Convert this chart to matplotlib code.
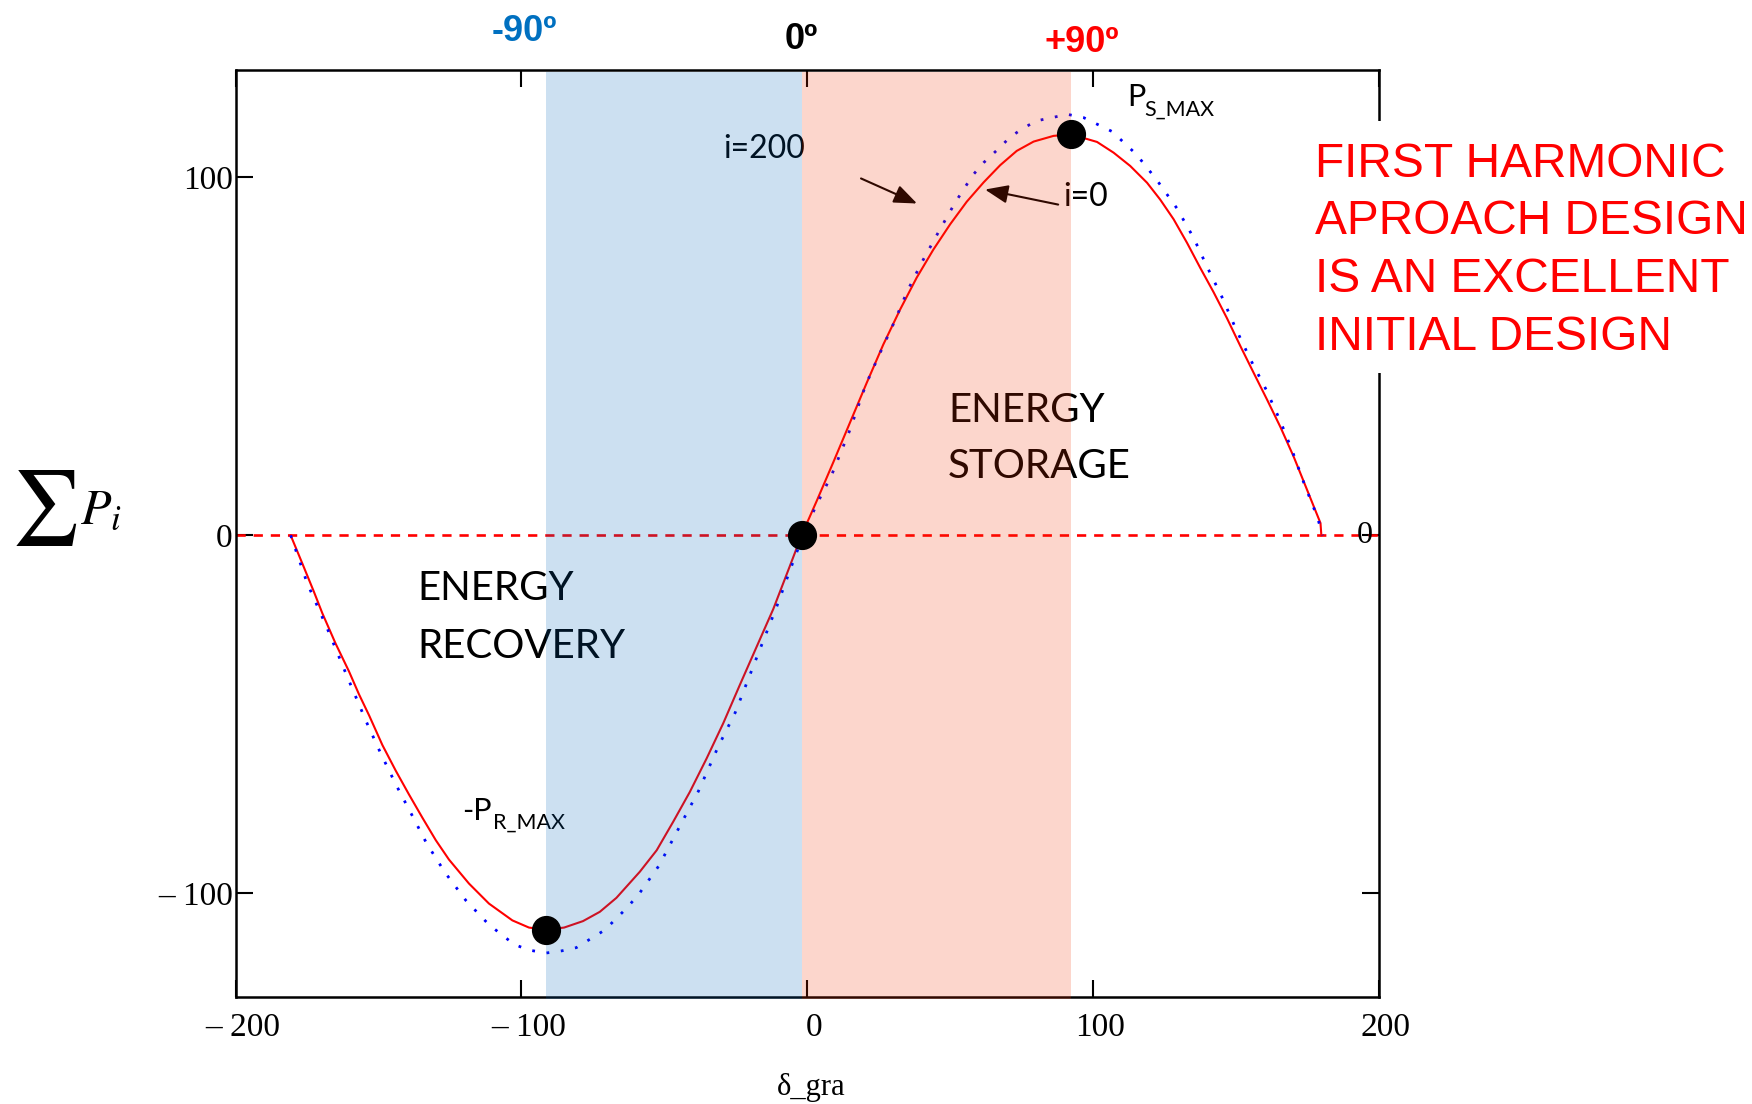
import matplotlib.pyplot as plt
from matplotlib.patches import Rectangle
from matplotlib.transforms import ScaledTranslation

plt.rcParams['font.family'] = ['Lato', 'DejaVu Sans']
plt.rcParams['mathtext.fontset'] = 'stix'

# sum of powers vs load angle, i=0 (solid red)
red_x = [-180.7, -176.6, -172.6, -169.6, -165.0, -160.3, -156.8, -153.2, -148.6, -143.9,
         -139.3, -134.6, -129.9, -125.3, -118.3, -111.3, -103.1, -97.3, -91.4, -85.0,
         -78.4, -72.5, -66.7, -58.5, -52.6, -46.8, -41.0, -35.1, -29.3, -23.5,
         -17.6, -11.8, -6.0, -1.9, 3.4, 9.2, 15.1, 20.9, 26.7, 32.6,
         38.4, 44.2, 50.1, 55.9, 61.8, 67.6, 73.4, 79.3, 86.3, 92.5,
         101.5, 107.3, 113.1, 119.0, 123.6, 128.3, 133.0, 137.7, 142.3, 147.0,
         151.7, 156.3, 161.0, 165.7, 170.4, 175.0, 179.7, 180.0]
red_y = [0.0, -7.9, -15.7, -21.8, -30.2, -38.0, -44.4, -50.4, -58.6, -65.8,
         -72.4, -78.9, -85.2, -90.6, -97.3, -102.9, -107.6, -109.6, -110.2, -109.6,
         -107.8, -105.2, -101.3, -94.0, -88.0, -80.0, -71.7, -62.3, -52.5, -41.8,
         -31.1, -20.6, -8.6, 0.0, 9.6, 20.4, 31.6, 42.6, 53.3, 63.1,
         72.0, 79.8, 86.9, 93.2, 98.6, 103.4, 107.4, 110.0, 111.6, 112.0,
         109.9, 106.9, 103.2, 98.5, 93.8, 88.3, 81.7, 74.6, 67.9, 60.6,
         52.8, 45.4, 37.9, 30.2, 21.8, 12.7, 3.4, 0.0]

# i=200 (blue dotted)
blue_x = [-180.7, -174.9, -167.9, -160.9, -154.1, -149.2, -143.9, -138.1, -133.1, -126.7,
          -119.4, -111.3, -102.5, -97.3, -91.2, -85.8, -80.7, -70.8, -62.9, -58.7,
          -51.8, -43.8, -38.0, -31.1, -25.1, -19.1, -10.5, -4.4, -1.3, 3.0,
          8.6, 14.8, 20.6, 25.6, 30.5, 35.1, 40.2, 46.0, 51.8, 58.0,
          61.8, 67.0, 70.9, 75.3, 80.4, 85.7, 91.2, 96.8, 106.8, 115.3,
          122.3, 129.5, 135.3, 140.2, 145.2, 149.9, 155.2, 160.8, 165.7, 170.0,
          173.9, 178.5, 180.5]
blue_y = [0.0, -13.4, -26.0, -39.5, -52.3, -60.9, -69.6, -78.4, -86.1, -94.2,
          -102.0, -108.8, -114.3, -115.9, -116.7, -116.1, -115.2, -110.3, -104.0, -100.1,
          -92.3, -80.2, -71.5, -59.1, -49.5, -37.2, -19.7, -6.4, 0.0, 8.0,
          16.8, 29.0, 42.1, 51.0, 59.5, 68.2, 76.3, 84.7, 92.9, 100.6,
          104.1, 108.0, 111.1, 113.6, 115.8, 116.7, 117.6, 116.7, 112.8, 106.4,
          99.4, 91.3, 83.1, 74.7, 66.6, 58.0, 49.1, 40.5, 31.8, 23.2,
          14.6, 5.3, 0.0]

# -P_R_MAX, zero crossing, P_S_MAX
dot_x = [-91.4, -1.9, 92.5]
dot_y = [-110.2, 0.0, 112.0]

x_ticks = [-200, -100, 0, 100, 200]
x_tick_labels = ['– 200', '– 100', '0', '100', '200']
y_ticks = [-100, 0, 100]
y_tick_labels = ['– 100', '0', '100']

W, H = 1752, 1104
fig = plt.figure(figsize=(W / 100, H / 100), dpi=100)
ax = fig.add_axes([235.5 / W, 1 - 997 / H, 1143 / W, 927 / H])
ax.set_xlim(-200, 200)
ax.set_ylim(-129, 130)

ax.axhline(0, color='red', lw=1.9, dashes=(3.5, 3.0), zorder=1.8)
ax.plot(red_x, red_y, color='red', lw=1.5, zorder=2)
ax.plot(blue_x, blue_y, color='blue', lw=2.0, dashes=(1, 4.2), zorder=2.1)
ax.plot(dot_x, dot_y, 'o', color='black', ms=20, zorder=5)

# recovery / storage zones (translucent, on top of text and curves)
ax.axvspan(dot_x[0], dot_x[1], ymin=-0.002, ymax=0.998, color='#0064B9', alpha=0.2,
           lw=0, zorder=4, clip_on=False)
ax.axvspan(dot_x[1], dot_x[2], ymin=-0.002, ymax=0.998, color='#F03200', alpha=0.2,
           lw=0, zorder=4, clip_on=False)

ax.text(-136.3, -18.0, 'ENERGY', fontsize=29, va='baseline', zorder=3)
ax.text(-136.3, -34.3, 'RECOVERY', fontsize=29, va='baseline', zorder=3)
ax.text(49.4, 31.7, 'ENERGY', fontsize=29, va='baseline', zorder=3)
ax.text(49.4, 16.1, 'STORAGE', fontsize=29, va='baseline', zorder=3)

ax.text(-29.4, 105.5, 'i=200', fontsize=23, va='baseline', zorder=3)
ax.text(89.7, 91.9, 'i=0', fontsize=23, va='baseline', zorder=3)
ax.text(112.1, 119.9, 'P', fontsize=22, va='baseline', zorder=3)
ax.text(118.0, 117.1, 'S_MAX', fontsize=15.5, va='baseline', zorder=3)
ax.text(-120.8, -79.6, '-P', fontsize=22, va='baseline', zorder=3)
ax.text(-109.8, -82.1, 'R_MAX', fontsize=15.5, va='baseline', zorder=3)

arrow = dict(arrowstyle='-|>,head_length=0.7,head_width=0.28', lw=1.5, color='black',
             shrinkA=0, shrinkB=0, mutation_scale=20)
ax.annotate('', xy=(38.5, 92.7), xytext=(18.9, 99.7), arrowprops=arrow, zorder=3)
ax.annotate('', xy=(62.3, 96.6), xytext=(87.9, 92.4), arrowprops=arrow, zorder=3)

ax.text(195.1, 0, '0', family='Liberation Serif', fontsize=23, ha='center', va='center', zorder=2.2)

ax.set_xticks(x_ticks)
ax.set_xticklabels(x_tick_labels)
ax.set_yticks(y_ticks)
ax.set_yticklabels(y_tick_labels)
ax.tick_params(direction='in', length=12, width=1.5, top=True, right=True, labelsize=24)
ax.tick_params(axis='x', pad=11)
ax.tick_params(axis='y', pad=2)
shift = ScaledTranslation(7 / 100, 0, fig.dpi_scale_trans)
for lbl in ax.get_xticklabels():
    lbl.set_fontfamily('Liberation Serif')
    lbl.set_transform(lbl.get_transform() + shift)
for lbl in ax.get_yticklabels():
    lbl.set_fontfamily('Liberation Serif')
for s in ax.spines.values():
    s.set_linewidth(1.8)

# angle markers above the frame
fig.text(524 / W, 1 - 41 / H, '-90º', color='#0070C0', fontsize=26, fontweight='bold',
         family='Liberation Sans', ha='center', va='baseline')
fig.text(801 / W, 1 - 49 / H, '0º', color='black', fontsize=26, fontweight='bold',
         family='Liberation Sans', ha='center', va='baseline')
fig.text(1082 / W, 1 - 52 / H, '+90º', color='red', fontsize=26, fontweight='bold',
         family='Liberation Sans', ha='center', va='baseline')

# axis titles
fig.text(12 / W, 1 - 508 / H, '∑', family='STIXGeneral', fontsize=54, va='center')
fig.text(80 / W, 1 - 523 / H, r'$P_i$', fontsize=36, va='baseline')
fig.text(811 / W, 1 - 1088 / H, 'δ_gra', family='Liberation Serif', fontsize=22,
         ha='center', va='center')

# note box, covers the right frame edge
fig.add_artist(Rectangle((1300 / W, 1 - 373 / H), 452 / W, 252 / H, transform=fig.transFigure,
                         facecolor='white', edgecolor='none', zorder=2))
note = ['FIRST HARMONIC', 'APROACH DESIGN', 'IS AN EXCELLENT', 'INITIAL DESIGN']
for k, line in enumerate(note):
    fig.text(1315 / W, 1 - (177 + 57.5 * k) / H, line, color='red', fontsize=34.5,
             family='Liberation Sans', va='baseline', zorder=3)

fig.savefig('out.png', dpi=100)
